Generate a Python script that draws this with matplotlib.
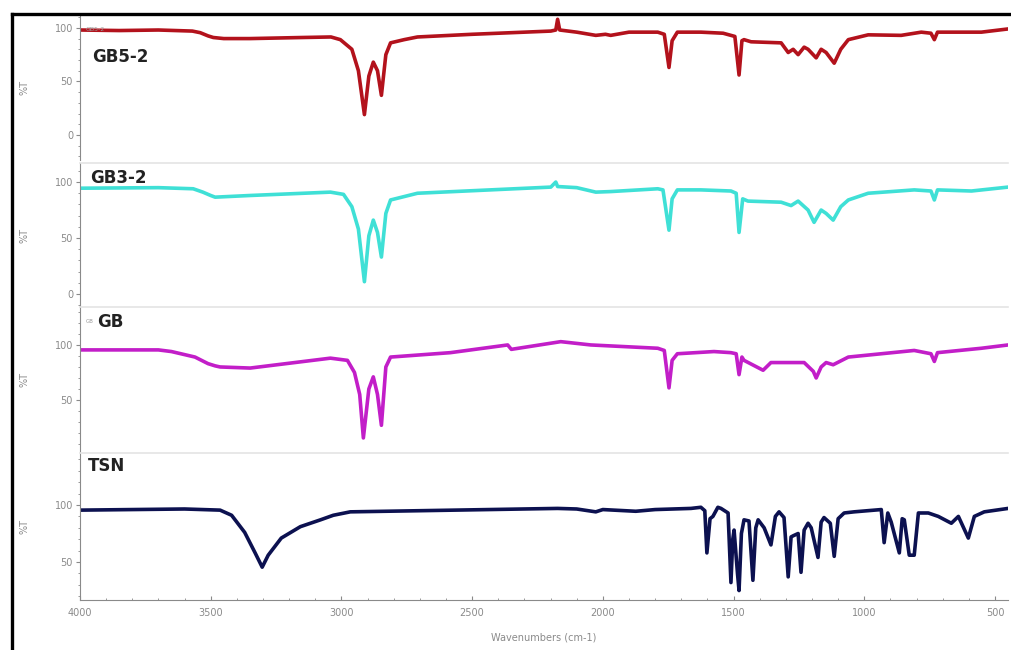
import matplotlib
matplotlib.use("Agg")
import matplotlib.pyplot as plt
from matplotlib.ticker import MultipleLocator
from matplotlib.lines import Line2D

# spectra: wavenumber (cm-1) and %T
gb52_wn = [4000, 3850, 3700, 3570, 3540, 3510, 3490, 3450, 3350, 3150, 3040, 3004, 2960, 2935,
           2912, 2895, 2878, 2862, 2847, 2830, 2812, 2760, 2709, 2500, 2199, 2180, 2173, 2165,
           2100, 2027, 1990, 1970, 1900, 1790, 1765, 1747, 1735, 1715, 1701, 1625, 1540, 1495,
           1479, 1468, 1460, 1433, 1318, 1291, 1272, 1253, 1230, 1215, 1184, 1165, 1146, 1115,
           1090, 1061, 985, 859, 782, 745, 732, 720, 552, 450]
gb52_t = [98, 97.5, 98, 97, 95.5, 92.5, 91, 90, 90, 91, 91.5, 89, 80, 60,
          19, 55, 68, 60, 37, 75, 86, 89, 91.5, 94, 97, 98, 108, 98,
          96, 93, 94, 93, 96, 96, 94, 63, 88, 96, 96, 96, 95, 92,
          56, 88, 89, 87, 86, 77, 80, 75, 82, 80, 72, 80, 77, 67,
          80, 89, 93.5, 93, 96, 95, 89, 96, 96, 99]

gb32_wn = [4000, 3700, 3567, 3530, 3500, 3483, 3349, 3042, 2992, 2960, 2935, 2912, 2895, 2878,
           2862, 2847, 2830, 2812, 2709, 2199, 2180, 2173, 2100, 2027, 1970, 1790, 1770, 1747,
           1735, 1715, 1625, 1510, 1490, 1479, 1465, 1445, 1318, 1280, 1253, 1215, 1192, 1165,
           1146, 1119, 1090, 1061, 985, 809, 745, 732, 720, 590, 450]
gb32_t = [94.5, 95, 94, 91, 88, 86.5, 88, 91, 89, 78, 58, 11, 52, 66,
          55, 33, 72, 84, 90, 95.5, 100, 96, 95, 91, 91.5, 94, 93, 57,
          85, 93, 93, 92, 90, 55, 85, 83, 82, 79, 83, 75, 64, 75,
          72, 66, 78, 84, 90, 93, 92, 84, 93, 92, 95.5]

gb_wn = [4000, 3700, 3650, 3560, 3510, 3483, 3464, 3349, 3042, 2977, 2950, 2930, 2916, 2895,
         2878, 2862, 2847, 2830, 2812, 2583, 2364, 2350, 2161, 2046, 1790, 1765, 1747, 1735,
         1715, 1575, 1510, 1490, 1479, 1468, 1460, 1387, 1357, 1230, 1195, 1184, 1165, 1146,
         1119, 1061, 809, 745, 732, 720, 552, 450]
gb_t = [95.5, 95.5, 94, 89, 83, 81, 80, 79, 88, 86, 75, 55, 15.5, 60,
        71, 55, 27, 80, 89, 93, 100, 96, 103, 100, 97, 95, 61, 86,
        92, 94, 93, 92, 73, 89, 86, 77, 84, 84, 76, 70, 80, 84,
        82, 89, 95, 92, 85, 93, 97, 100]

tsn_wn = [4000, 3800, 3600, 3464, 3420, 3370, 3330, 3303, 3280, 3230, 3157, 3080, 3031, 2966,
          2700, 2173, 2100, 2027, 2000, 1874, 1800, 1663, 1625, 1610, 1602, 1590, 1579, 1560,
          1548, 1521, 1510, 1503, 1498, 1485, 1479, 1470, 1460, 1441, 1426, 1415, 1406, 1383,
          1357, 1340, 1326, 1307, 1291, 1280, 1272, 1253, 1242, 1230, 1215, 1203, 1177, 1165,
          1154, 1130, 1115, 1100, 1077, 1039, 935, 924, 910, 897, 866, 855, 847, 828,
          809, 793, 755, 717, 667, 640, 602, 579, 541, 450]
tsn_t = [95.5, 96, 96.5, 95.5, 91, 76, 58, 45.5, 56, 71, 81, 87, 91, 94,
         95, 97, 96.5, 94, 96, 94.5, 96, 97, 98, 95, 58, 88, 90, 98,
         97, 93, 32, 70, 78, 40, 25, 75, 87, 86, 34, 80, 87, 80,
         65, 90, 94, 89, 37, 72, 73, 75, 41, 78, 84, 80, 54, 85,
         89, 84, 55, 88, 93, 94, 96, 67, 93, 85, 58, 88, 87, 56,
         56, 93, 93, 90, 84, 90, 71, 90, 94, 97]

names = ["GB5-2", "GB3-2", "GB", "TSN"]
colors = ["#b3121c", "#3fe0d6", "#c21ec8", "#0c1150"]
spectra = [(gb52_wn, gb52_t), (gb32_wn, gb32_t), (gb_wn, gb_t), (tsn_wn, tsn_t)]
yticks = [[0, 50, 100], [0, 50, 100], [50, 100], [50, 100]]
ylims = [(-23.4, 112), (-11.6, 117), (2.7, 134.5), (16.7, 145.6)]

# panel boxes in figure fractions (left, bottom, width, height)
boxes = [(0.0791, 0.7538, 0.918, 0.2231),
         (0.0791, 0.5277, 0.918, 0.2215),
         (0.0791, 0.3046, 0.918, 0.2231),
         (0.0791, 0.0769, 0.918, 0.2262)]
label_y = [0.71, 0.896, 0.897, 0.912]
label_x = [0.013, 0.011, 0.019, 0.009]

grey = "#8a8a8a"
fig = plt.figure(figsize=(10.11, 6.5), dpi=100)

axes = []
for i in range(4):
    ax = fig.add_axes(boxes[i])
    wn, t = spectra[i]
    ax.plot(wn, t, color=colors[i], lw=2.6, solid_joinstyle="round")
    ax.set_xlim(4000, 450)
    ax.set_ylim(*ylims[i])
    ax.set_yticks(yticks[i])
    ax.yaxis.set_minor_locator(MultipleLocator(10))
    ax.xaxis.set_major_locator(MultipleLocator(500))
    ax.xaxis.set_minor_locator(MultipleLocator(100))
    ax.tick_params(axis="y", which="major", length=3, width=0.8, color=grey,
                   labelsize=7, labelcolor=grey, pad=2)
    ax.tick_params(axis="y", which="minor", length=1.5, width=0.6, color=grey)
    ax.spines["left"].set_color(grey)
    ax.spines["right"].set_visible(False)
    ax.spines["top"].set_color("#e4e4e4")
    ax.spines["top"].set_linewidth(1.2)
    ax.set_ylabel("%T", fontsize=7, color=grey, labelpad=18)
    ax.text(label_x[i], label_y[i], names[i], transform=ax.transAxes, fontsize=12,
            fontweight="bold", color="#222222", va="center", ha="left")
    if i < 3:
        ax.spines["bottom"].set_visible(False)
        ax.tick_params(axis="x", which="both", bottom=False, labelbottom=False)
    else:
        ax.spines["bottom"].set_color(grey)
        ax.tick_params(axis="x", which="major", length=3, width=0.8, color=grey,
                       labelsize=7, labelcolor=grey, direction="in", pad=6)
        ax.tick_params(axis="x", which="minor", length=1.5, width=0.6, color=grey,
                       direction="in")
        ax.set_xlabel("Wavenumbers (cm-1)", fontsize=7, color=grey, labelpad=10)
    axes.append(ax)

# remains of the small original labels
axes[0].text(0.006, 0.9, "GB5-2", transform=axes[0].transAxes, fontsize=4.5,
             color="#999999", va="center")
axes[2].text(0.006, 0.9, "GB", transform=axes[2].transAxes, fontsize=4,
             color="#999999", va="center")

# black frame of the screenshot
fig.add_artist(Line2D([0.0114, 0.0114], [0.0, 0.979], transform=fig.transFigure,
                      color="black", lw=2.4))
fig.add_artist(Line2D([0.0114, 1.0], [0.979, 0.979], transform=fig.transFigure,
                      color="black", lw=2.4))

fig.savefig("out.png", dpi=100)
